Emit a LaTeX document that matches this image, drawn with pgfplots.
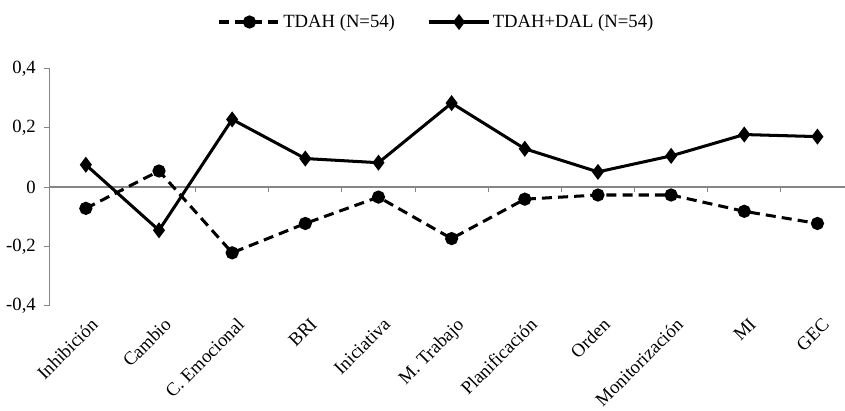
\documentclass[border={0pt 3pt 0pt 10pt}]{standalone}
\usepackage{pgfplots}
\pgfplotsset{compat=1.18}
\usepackage{fontspec}
\setmainfont{Liberation Serif}
\definecolor{axgray}{RGB}{134,134,134}
\newcommand{\chartfont}{\fontsize{18.5}{21}\selectfont}
\begin{document}
\chartfont
\begin{tikzpicture}
\pgfplotsset{
  base/.style={
    scale only axis, width=788pt, height=235pt,
    xmin=-0.5, xmax=10.37, ymin=-0.4, ymax=0.4,
    clip=false,
  }
}
% zero line with category separators
\begin{axis}[base,
  axis y line=none, axis x line=middle,
  x axis line style={axgray, line width=1pt, -},
  xtick={0.5,1.5,...,9.5}, xticklabels={},
  xtick style={axgray, line width=1pt},
  tick align=outside, major tick length=5pt,
  ytick=\empty,
]
\end{axis}
\begin{axis}[base,
  axis x line*=bottom, axis y line*=left,
  x axis line style={draw=none},
  y axis line style={axgray, line width=1.3pt, -},
  ytick={-0.4,-0.2,0,0.2,0.4},
  yticklabels={{-0,4},{-0,2},{0},{0,2},{0,4}},
  ytick style={axgray, line width=1pt},
  tick align=outside, major tick length=5pt,
  xtick={0,...,10},
  xticklabels={Inhibición, Cambio, C. Emocional, BRI, Iniciativa, M. Trabajo, Planificación, Orden, Monitorización, MI, GEC},
  xtick style={draw=none},
  tick label style={font=\chartfont},
  yticklabel style={xshift=-2pt},
  xticklabel style={xshift=4pt, yshift=-6pt, rotate=45, anchor=north east, inner sep=0pt},
  legend style={at={(0.487,1)}, anchor=center, yshift=46pt, draw=none, fill=none,
    legend columns=2, font=\chartfont,
    /tikz/every even column/.append style={column sep=30pt}},
  legend image code/.code={\draw[mark repeat=2,mark phase=2] plot coordinates {(0pt,0pt) (30pt,0pt) (60pt,0pt)};},
]
\addplot[black, line width=3pt, dash pattern=on 10pt off 6pt, mark=*, mark size=5pt, mark options={solid}]
coordinates {(0,-0.072) (1,0.054) (2,-0.222) (3,-0.123) (4,-0.034) (5,-0.174) (6,-0.041) (7,-0.027) (8,-0.027) (9,-0.082) (10,-0.123)};
\addlegendentry{TDAH (N=54)}
\addplot[black, line width=3pt, mark=diamond*, mark size=5.5pt]
coordinates {(0,0.075) (1,-0.146) (2,0.228) (3,0.096) (4,0.082) (5,0.283) (6,0.129) (7,0.051) (8,0.105) (9,0.177) (10,0.170)};
\addlegendentry{TDAH+DAL (N=54)}
\end{axis}
\end{tikzpicture}
\end{document}
